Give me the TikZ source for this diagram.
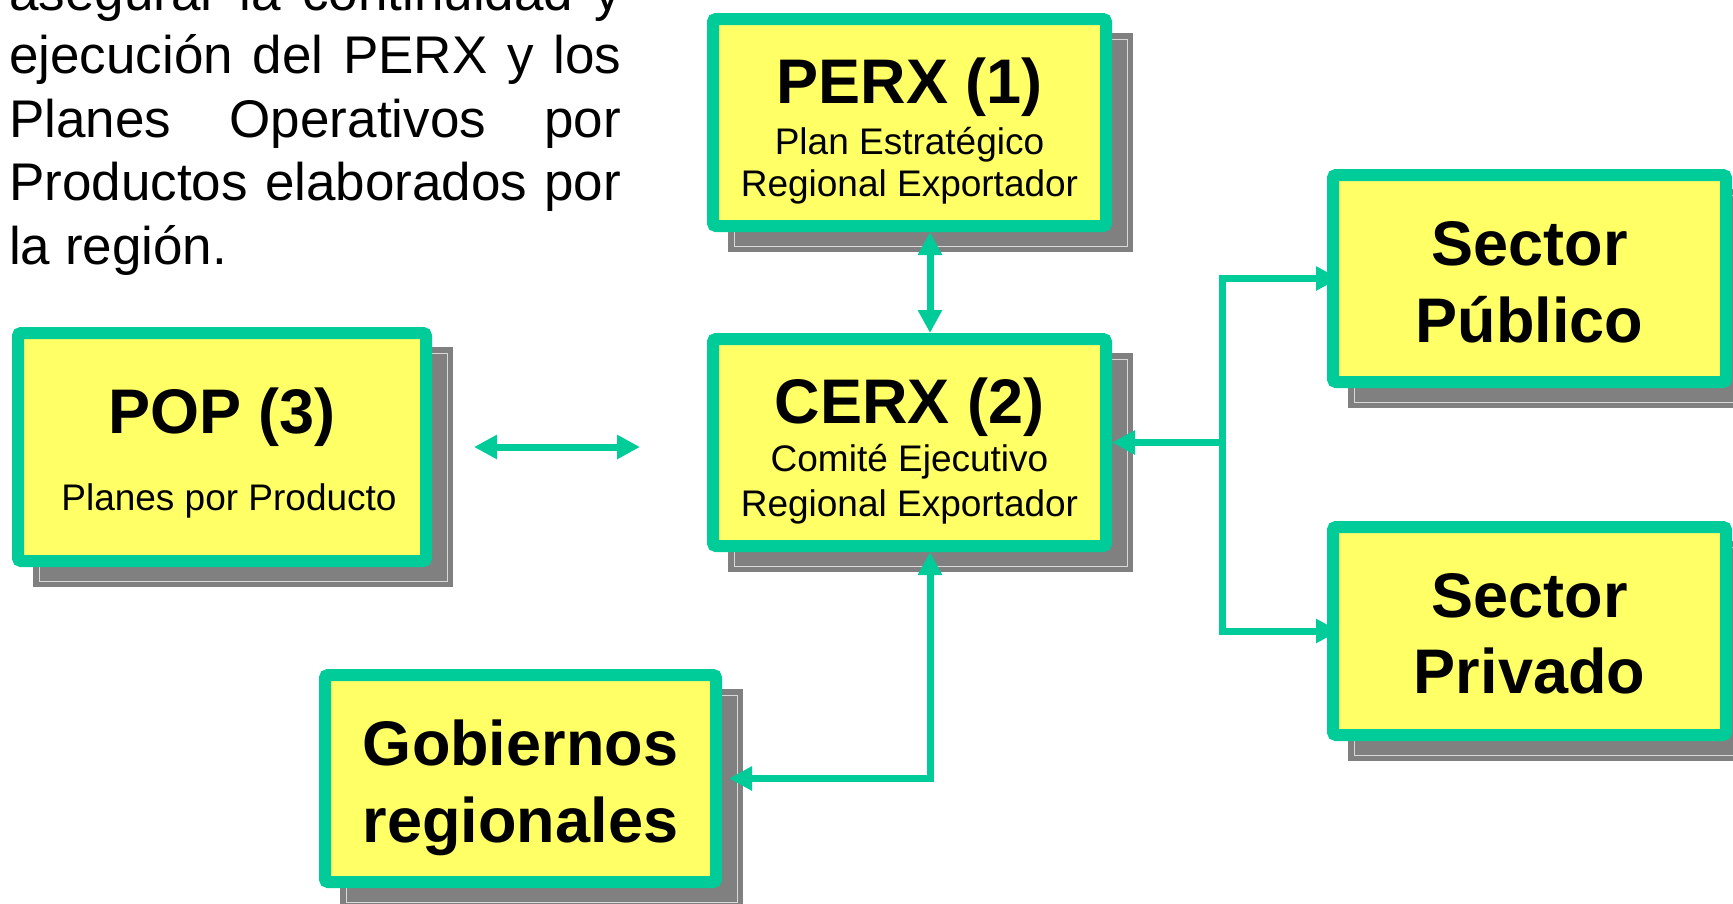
\documentclass[tikz,border=0pt]{standalone}
\usepackage{fontspec}
\setmainfont{Liberation Sans}
\usetikzlibrary{arrows.meta,calc,backgrounds}
\definecolor{grn}{HTML}{00CC99}
\definecolor{yel}{HTML}{FFFF66}
\definecolor{shd}{HTML}{808080}
\definecolor{shl}{HTML}{D9D9D9}
\begin{document}
\begin{tikzpicture}[x=1pt,y=-1pt,
  box/.style={draw=grn, fill=yel, line width=12pt, rounded corners=3pt,
    inner sep=0pt, outer sep=6pt, minimum width=393pt, minimum height=207pt},
  ttl/.style={inner sep=0pt, anchor=base, font=\fontsize{63pt}{70pt}\selectfont\bfseries},
  sub/.style={inner sep=0pt, anchor=base, font=\fontsize{37pt}{42pt}\selectfont},
  para/.style={inner sep=0pt, anchor=base west, font=\fontsize{53pt}{63.5pt}\selectfont},
  conn/.style={draw=grn, line width=7pt, >={Triangle[length=23pt,width=23pt]}}
]
\useasboundingbox (0,0) rectangle (1733,903);

% paragraph
\node[para] (txt) at (9,10) {\vtop{\baselineskip=63.5pt
  \hbox to 612pt{asegurar\hfill la\hfill continuidad\hfill y}
  \hbox to 612pt{ejecución\hfill del\hfill PERX\hfill y\hfill los}
  \hbox to 612pt{Planes\hfill Operativos\hfill por}
  \hbox to 612pt{Productos\hfill elaborados\hfill por}
  \hbox{la región.}}};

% boxes
\node[box] (perx) at (909.5,122.5) {};
\node[box] (cerx) at (909.5,442.5) {};
\node[box, minimum width=408pt, minimum height=228pt] (pop) at (222,447) {};
\node[box, minimum width=391pt] (gob) at (520.5,778.5) {};
\node[box] (pub) at (1529.5,278.5) {};
\node[box, minimum height=208pt] (priv) at (1529.5,631) {};

% shadows
\begin{scope}[on background layer]
\foreach \n in {perx,cerx,pop,gob,pub,priv}{
  \fill[shd] ($(\n.north west)+(21,20)$) rectangle ($(\n.south east)+(21,20)$);
  \draw[shl, line width=1pt] ($(\n.north west)+(27,26)$) rectangle ($(\n.south east)+(15,14)$);
}
\end{scope}

% texts
\node[ttl] (perxT) at ($(perx.north)+(0,90)$) {PERX (1)};
\node[sub] (perxA) at ($(perx.north)+(0,141)$) {Plan Estratégico};
\node[sub] (perxB) at ($(perx.north)+(0,183)$) {Regional Exportador};

\node[ttl] (cerxT) at ($(cerx.north)+(0,90)$) {CERX (2)};
\node[sub] (cerxA) at ($(cerx.north)+(0,138)$) {Comité Ejecutivo};
\node[sub] (cerxB) at ($(cerx.north)+(0,183)$) {Regional Exportador};

\node[ttl] (popT) at ($(pop.north)+(0,106)$) {POP (3)};
\node[sub] (popA) at ($(pop.north)+(7,183)$) {Planes por Producto};

\node[ttl] (gobA) at ($(gob.north)+(0,96)$) {Gobiernos};
\node[ttl] (gobB) at ($(gob.north)+(0,173)$) {regionales};

\node[ttl] (pubA) at ($(pub.north)+(0,96)$) {Sector};
\node[ttl] (pubB) at ($(pub.north)+(0,173)$) {Público};

\node[ttl] (privA) at ($(priv.north)+(0,96)$) {Sector};
\node[ttl] (privB) at ($(priv.north)+(0,172)$) {Privado};

% connectors
\coordinate (jx) at (1222,0);
\draw[conn,<->] ($(perx.south)+(20.5,0)$) -- ($(cerx.north)+(20.5,0)$);
\draw[conn,<->] ($(pop.east)+(42,0)$) -- ($(pop.east)+(208,0)$);
\draw[conn,<->] ($(pub.west)+(12,0)$) -- (pub.west -| jx) -- (priv.west -| jx) -- ($(priv.west)+(12,0)$);
\draw[conn,->] (cerx.east -| jx) -- (cerx.east);
\draw[conn,<->] ($(cerx.south)+(20.5,0)$) |- ($(gob.east)+(7,0)$);
\end{tikzpicture}
\end{document}
